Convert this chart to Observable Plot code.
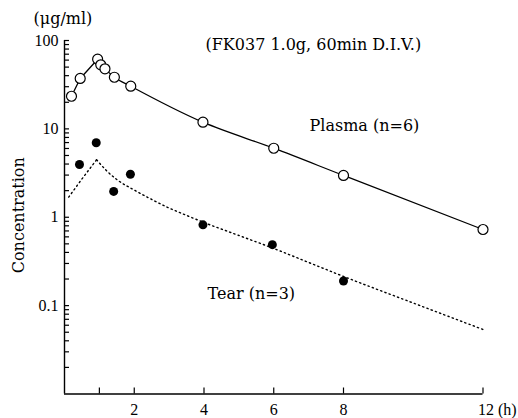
<!DOCTYPE html>
<html>
<head>
<meta charset="utf-8">
<script src="https://cdn.jsdelivr.net/npm/d3@7"></script>
<script src="https://cdn.jsdelivr.net/npm/@observablehq/plot@0.6"></script>
<style>
  html, body { margin: 0; padding: 0; background: #fff; }
</style>
</head>
<body>
<div id="chart"></div>
<script>
// Plasma (open circles), h and µg/ml
const plasmaTime = [0.2, 0.45, 0.95, 1.04, 1.16, 1.43, 1.9, 3.97, 6, 8, 12];
const plasmaConc = [23.4, 37.2, 61.4, 53.1, 47.8, 38.4, 30.4, 11.9, 6.04, 2.97, 0.727];
const plasmaPeakIndex = 2;

// Tear (filled circles)
const tearTime = [0.43, 0.91, 1.41, 1.89, 3.97, 5.96, 8];
const tearConc = [3.95, 6.96, 1.96, 3.07, 0.82, 0.49, 0.19];

// Tear fitted curve (dotted)
const tearCurveTime = [0.12, 0.5, 0.92, 1.2, 1.5, 2, 2.5, 3, 3.5, 4, 5, 6, 7, 8, 10, 12];
const tearCurveConc = [1.69, 2.71, 4.47, 3.38, 2.67, 2.03, 1.59, 1.27, 1.05, 0.872, 0.622, 0.443, 0.308, 0.214, 0.107, 0.0537];
const tearPeakIndex = 2;

// Axis ticks and labels
const yLabelTicks = [0.1, 1, 10, 100];
const yLabels = ["0.1", "1", "10", "100"];
const yAllTicks = [];
for (const base of [0.01, 0.1, 1, 10]) for (let k = 2; k <= 10; k++) yAllTicks.push(+(base * k).toPrecision(3));
const xAllTicks = [1, 2, 4, 6, 8, 12];
const xLabelTicks = [2, 4, 6, 8];
const xLastTick = [12];
const xLastLabel = "12 (h)";

const plasma = plasmaTime.map((t, i) => ({t, c: plasmaConc[i]}));
const plasmaRise = plasma.slice(0, plasmaPeakIndex + 1);
const plasmaDecay = plasma.slice(plasmaPeakIndex);
const tear = tearTime.map((t, i) => ({t, c: tearConc[i]}));
const tearCurve = tearCurveTime.map((t, i) => ({t, c: tearCurveConc[i]}));
const tearRise = tearCurve.slice(0, tearPeakIndex + 1);
const tearDecay = tearCurve.slice(tearPeakIndex);

const serif = "'DejaVu Serif', serif";
const tickFont = "'Liberation Serif', 'Times New Roman', serif";

const W = 518, H = 418, ML = 64, MR = 35.5, MT = 40, MB = 24.5;
const frameW = W - ML - MR, frameH = H - MT - MB;

const note = (txt, dx, dy, extra = {}) =>
  Plot.text([txt], {frameAnchor: "top-left", dx, dy, textAnchor: "start", lineAnchor: "middle", fontSize: 16, ...extra});

const chart = Plot.plot({
  width: W,
  height: H,
  marginLeft: ML,
  marginRight: MR,
  marginTop: MT,
  marginBottom: MB,
  style: {background: "#fff", color: "#000", fontFamily: serif, fontSize: "16px"},
  x: {domain: [0, 12], axis: null},
  y: {type: "log", domain: [0.01, 100], axis: null},
  marks: [
    // axis lines
    Plot.ruleX([0], {stroke: "#000", strokeWidth: 1.4}),
    Plot.ruleY([0.01], {stroke: "#000", strokeWidth: 1.4}),
    // inward ticks
    Plot.tickY(yAllTicks, {y: d => d, insetRight: frameW - 5, stroke: "#000", strokeWidth: 1.2}),
    Plot.tickX(xAllTicks, {x: d => d, insetTop: frameH - 6, stroke: "#000", strokeWidth: 1.2}),
    // tick labels
    Plot.text(yLabelTicks, {y: d => d, frameAnchor: "left", dx: -6, textAnchor: "end", lineAnchor: "middle",
      text: d => yLabels[yLabelTicks.indexOf(d)], fontFamily: tickFont, fontSize: 16}),
    Plot.text(xLabelTicks, {x: d => d, frameAnchor: "bottom", dy: 16, lineAnchor: "middle", textAnchor: "middle",
      text: d => String(d), fontFamily: tickFont, fontSize: 16}),
    Plot.text(xLastTick, {x: d => d, frameAnchor: "bottom", dy: 16, dx: -5, textAnchor: "start", lineAnchor: "middle",
      text: () => xLastLabel, fontFamily: tickFont, fontSize: 16}),
    // axis titles / annotations
    note("(μg/ml)", -31, -22),
    Plot.text(["Concentration"], {frameAnchor: "left", dx: -46, dy: -2, rotate: -90, textAnchor: "middle",
      lineAnchor: "middle", fontSize: 16}),
    note("(FK037 1.0g, 60min D.I.V.)", 141, 4),
    note("Plasma (n=6)", 245, 85),
    note("Tear (n=3)", 143, 253),
    // curves
    Plot.line(tearRise, {x: "t", y: "c", stroke: "#000", strokeWidth: 1.4, strokeDasharray: "1.3,3.2"}),
    Plot.line(tearDecay, {x: "t", y: "c", stroke: "#000", strokeWidth: 1.4, strokeDasharray: "1.3,3.2", curve: "monotone-x"}),
    Plot.line(plasmaRise, {x: "t", y: "c", stroke: "#000", strokeWidth: 1.3}),
    Plot.line(plasmaDecay, {x: "t", y: "c", stroke: "#000", strokeWidth: 1.3, curve: "monotone-x"}),
    // points
    Plot.dot(plasma, {x: "t", y: "c", r: 5, fill: "#fff", stroke: "#000", strokeWidth: 1.2}),
    Plot.dot(tear, {x: "t", y: "c", r: 4.5, fill: "#000", stroke: "none"})
  ]
});
document.getElementById("chart").appendChild(chart);
</script>
</body>
</html>
